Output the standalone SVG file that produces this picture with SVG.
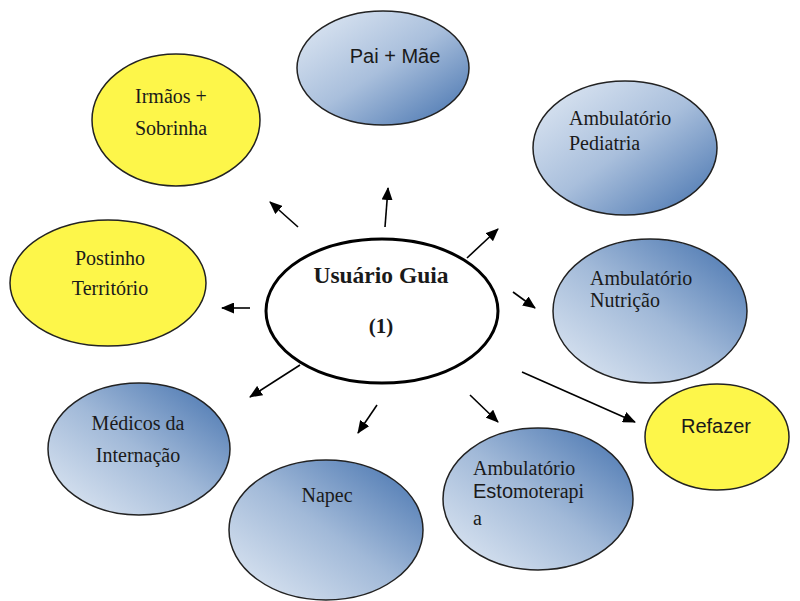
<svg xmlns="http://www.w3.org/2000/svg" width="800" height="601" viewBox="0 0 800 601">
  <defs>
    <linearGradient id="gA" x1="0" y1="0" x2="1" y2="1">
      <stop offset="0" stop-color="#e3ebf5"/>
      <stop offset="0.5" stop-color="#a9bfdc"/>
      <stop offset="1" stop-color="#4270ad"/>
    </linearGradient>
    <linearGradient id="gB" x1="0" y1="1" x2="1" y2="0">
      <stop offset="0" stop-color="#e3ebf5"/>
      <stop offset="0.5" stop-color="#a1b9d8"/>
      <stop offset="1" stop-color="#4270ad"/>
    </linearGradient>
    <marker id="ah" markerWidth="13" markerHeight="11" refX="12" refY="5.5" orient="auto" markerUnits="userSpaceOnUse" viewBox="0 0 13 11">
      <path d="M0,0 L13,5.5 L0,11 z" fill="#000"/>
    </marker>
  </defs>
  <style>
    .blueA { fill: url(#gA); stroke: #222; stroke-width: 1.5; }
    .blueB { fill: url(#gB); stroke: #222; stroke-width: 1.5; }
    .yel { fill: #fdf64a; stroke: #222; stroke-width: 1.5; }
    .conn line { stroke: #000; stroke-width: 1.6; marker-end: url(#ah); }
    text.t { font-family: 'Liberation Serif', serif; font-size: 20px; fill: #1a1a1a; }
    text.s { font-family: 'Liberation Sans', sans-serif; font-size: 20px; fill: #1a1a1a; }
  </style>
  <rect width="800" height="601" fill="#fff"/>

  <g id="pai-mae">
    <ellipse class="blueA" cx="383" cy="68" rx="86" ry="57"/>
    <text class="s" x="395" y="63" text-anchor="middle">Pai + Mãe</text>
  </g>
  <g id="irmaos">
    <ellipse class="yel" cx="176" cy="120" rx="84" ry="66"/>
    <text class="t" x="135" y="103">Irmãos +</text>
    <text class="t" x="135" y="135">Sobrinha</text>
  </g>
  <g id="pediatria">
    <ellipse class="blueA" cx="625" cy="148" rx="92" ry="67"/>
    <text class="t" x="569" y="125">Ambulatório</text>
    <text class="t" x="569" y="150">Pediatria</text>
  </g>
  <g id="postinho">
    <ellipse class="yel" cx="108" cy="283" rx="98" ry="63"/>
    <text class="t" x="110" y="265" text-anchor="middle">Postinho</text>
    <text class="t" x="110" y="295" text-anchor="middle">Território</text>
  </g>
  <g id="usuario">
    <ellipse cx="382" cy="311" rx="116" ry="72" fill="#fff" stroke="#000" stroke-width="3"/>
    <text class="t" x="381" y="283" text-anchor="middle" font-weight="bold" style="font-size:23.5px">Usuário Guia</text>
    <text class="t" x="381" y="333" text-anchor="middle" font-weight="bold" style="font-size:21px">(1)</text>
  </g>
  <g id="nutricao">
    <ellipse class="blueB" cx="650" cy="311" rx="97" ry="72"/>
    <text class="t" x="590" y="285">Ambulatório</text>
    <text class="t" x="590" y="307">Nutrição</text>
  </g>
  <g id="medicos">
    <ellipse class="blueB" cx="139" cy="449" rx="91" ry="66"/>
    <text class="t" x="138" y="430" text-anchor="middle">Médicos da</text>
    <text class="t" x="138" y="462" text-anchor="middle">Internação</text>
  </g>
  <g id="refazer">
    <ellipse class="yel" cx="717" cy="437" rx="72" ry="53"/>
    <text class="s" x="716" y="433" text-anchor="middle">Refazer</text>
  </g>
  <g id="estomoterapia">
    <ellipse class="blueB" cx="538" cy="499" rx="95" ry="71"/>
    <text class="t" x="473" y="475">Ambulatório</text>
    <text class="t" x="473" y="498"><tspan style="font-family:'Liberation Sans', sans-serif; font-size:20px">Esto</tspan>moterapi</text>
    <text class="t" x="473" y="525">a</text>
  </g>
  <g id="napec">
    <ellipse class="blueB" cx="326" cy="530" rx="97" ry="70"/>
    <text class="t" x="327" y="502" text-anchor="middle">Napec</text>
  </g>

  <g id="connectors" class="conn">
    <line x1="298" y1="227" x2="270" y2="202"/>
    <line x1="385" y1="227" x2="388" y2="188"/>
    <line x1="467" y1="258" x2="498" y2="229"/>
    <line x1="513" y1="292" x2="535" y2="308"/>
    <line x1="250" y1="308" x2="222" y2="308"/>
    <line x1="300" y1="365" x2="250" y2="397"/>
    <line x1="377" y1="405" x2="358" y2="433"/>
    <line x1="470" y1="395" x2="498" y2="422"/>
    <line x1="522" y1="372" x2="635" y2="422"/>
  </g>
</svg>
